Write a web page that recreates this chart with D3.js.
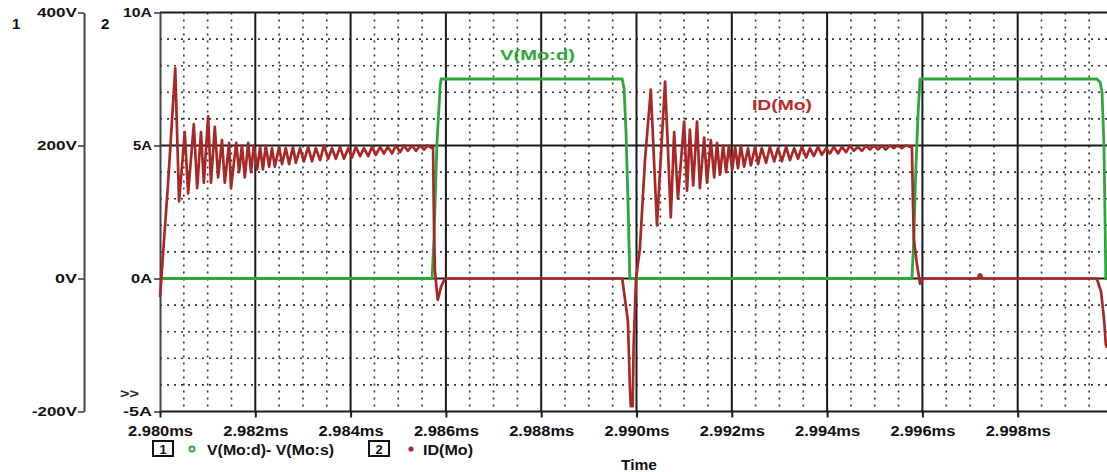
<!DOCTYPE html>
<html>
<head>
<meta charset="utf-8">
<script src="https://cdn.jsdelivr.net/npm/d3@7"></script>
<style>
  html, body { margin: 0; padding: 0; background: #fff; }
  svg { display: block; }
  text { font-family: "Liberation Sans", Arial, sans-serif; font-weight: bold; }
</style>
</head>
<body>
<script>
// ---------- DATA ----------
// time in microseconds after 2.980 ms
const xTickValues = [0, 2, 4, 6, 8, 10, 12, 14, 16, 18];
const xTickLabels = ["2.980ms", "2.982ms", "2.984ms", "2.986ms", "2.988ms", "2.990ms", "2.992ms", "2.994ms", "2.996ms", "2.998ms"];
const voltTickValues = [400, 200, 0, -200];
const voltTickLabels = ["400V", "200V", "0V", "-200V"];
const ampTickValues = [10, 5, 0, -5];
const ampTickLabels = ["10A", "5A", "0A", "-5A"];
const seriesNames = ["V(Mo:d)- V(Mo:s)", "ID(Mo)"];

// V(Mo:d) - V(Mo:s)  [V]
const vTime = [0, 5.71, 5.75, 5.81, 5.88, 5.90, 9.70, 9.74, 9.78, 9.82, 9.86, 15.78, 15.82, 15.86, 15.91, 15.95, 19.66, 19.73, 19.77, 19.81, 19.85, 19.88];
const vVolts = [0, 0, 60, 200, 290, 300, 300, 285, 220, 120, 0, 0, 60, 160, 250, 300, 300, 295, 280, 200, 0, 0];

// ID(Mo)  [A]
const idTime = [
  0.00, 0.17, 0.32, 0.40, 0.52, 0.59, 0.71, 0.78, 0.86, 0.92, 1.01, 1.07, 1.15, 1.22, 1.30, 1.36, 1.45, 1.49, 1.60, 1.66,
  1.72, 1.78, 1.85, 1.91, 1.97, 2.04, 2.10, 2.16, 2.22, 2.29, 2.35, 2.41, 2.50, 2.56, 2.64, 2.71, 2.79, 2.85, 2.94, 3.02,
  3.11, 3.19, 3.27, 3.36, 3.44, 3.53, 3.61, 3.69, 3.78, 3.86, 3.95, 4.03, 4.11, 4.20, 4.28, 4.37, 4.45, 4.53, 4.62, 4.70,
  4.78, 4.87, 4.95, 5.04, 5.12, 5.20, 5.29, 5.37, 5.46, 5.54, 5.62, 5.71, 5.73, 5.75, 5.77, 5.81, 5.83, 5.90, 5.98,
  9.70, 9.76, 9.82, 9.86, 9.88, 9.92, 9.94, 9.99, 10.07, 10.18, 10.30, 10.43, 10.60, 10.72, 10.79, 10.87, 11.00, 11.06,
  11.12, 11.19, 11.27, 11.33, 11.42, 11.48, 11.56, 11.63,
  11.69, 11.75, 11.82, 11.88, 11.94, 12.01, 12.07, 12.13, 12.19, 12.26, 12.34, 12.40, 12.49, 12.55, 12.63, 12.72, 12.80,
  12.89, 12.97, 13.05, 13.14, 13.22, 13.31, 13.39, 13.47, 13.56, 13.64, 13.72, 13.81, 13.89, 13.98, 14.06, 14.14, 14.23,
  14.31, 14.40, 14.48, 14.56, 14.65, 14.73, 14.82, 14.90, 14.98, 15.07, 15.15, 15.23, 15.32, 15.40, 15.48, 15.57, 15.65,
  15.74, 15.78, 15.80, 15.82, 15.88, 15.95, 16.01, 17.17, 17.19, 17.23, 17.25, 19.66, 19.75, 19.81, 19.85, 19.88
];
const idAmps = [
  -0.7, 3.6, 7.9, 2.9, 5.5, 3.2, 5.8, 3.4, 5.5, 3.6, 6.1, 3.6, 5.7, 3.8, 5.2, 3.6, 5.1, 3.4, 5.1, 4.0,
  5.0, 3.8, 5.1, 4.0, 5.0, 4.1, 4.95, 4.1, 5.0, 4.2, 4.9, 4.2, 4.95, 4.3, 4.9, 4.3, 4.95, 4.35, 4.9, 4.4,
  4.95, 4.4, 4.9, 4.45, 5.0, 4.5, 4.9, 4.5, 4.95, 4.5, 4.9, 4.55, 4.95, 4.6, 4.9, 4.6, 4.95, 4.65, 4.95, 4.7,
  4.95, 4.7, 5.0, 4.75, 5.0, 4.8, 5.0, 4.8, 5.0, 4.85, 5.0, 4.9, 4.95, 2.0, 0.3, -0.5, -0.8, -0.3, 0.0,
  0.0, -0.8, -1.6, -4.0, -4.8, -4.8, -2.5, 0.0, 1.1, 4.5, 7.1, 2.0, 7.4, 2.3, 5.5, 3.0, 5.9, 3.3,
  5.6, 3.5, 5.9, 3.4, 5.3, 3.6, 5.2, 3.8,
  5.1, 3.9, 5.0, 4.0, 5.0, 4.1, 4.95, 4.15, 5.0, 4.2, 4.9, 4.25, 4.95, 4.3, 4.9, 4.35, 4.95,
  4.4, 4.9, 4.4, 4.95, 4.45, 4.9, 4.5, 4.95, 4.55, 4.9, 4.6, 4.95, 4.65, 4.9, 4.7, 4.95, 4.7,
  4.95, 4.75, 5.0, 4.8, 4.95, 4.8, 5.0, 4.85, 5.0, 4.85, 5.0, 4.85, 5.0, 4.9, 5.0, 4.9, 5.0,
  4.95, 4.95, 3.0, 1.5, 0.6, -0.2, 0.0, 0.0, 0.15, 0.15, 0.0, 0.0, -0.5, -1.5, -2.5, -2.6
];

// ---------- CHART ----------
const W = 1107, H = 472;
const svg = d3.select("body").append("svg").attr("width", W).attr("height", H);
svg.append("rect").attr("width", W).attr("height", H).attr("fill", "#fff");

const x = d3.scaleLinear().domain([0, 20]).range([160, 1113]);
const yA = d3.scaleLinear().domain([-5, 10]).range([411.5, 12.5]);
const yV = d3.scaleLinear().domain([-200, 400]).range([411.5, 12.5]);

const plotRight = W;

// minor grid
const g = svg.append("g");
const minorX = d3.range(0.5, 20, 0.5).filter(v => v % 2 !== 0);
g.selectAll(".mx").data(minorX).join("line")
  .attr("x1", d => x(d)).attr("x2", d => x(d))
  .attr("y1", yA(10)).attr("y2", yA(-5))
  .attr("stroke", "#333").attr("stroke-width", 1.6).attr("stroke-dasharray", "2,5");
const minorY = d3.range(-4, 10, 1).filter(v => v % 5 !== 0);
g.selectAll(".my").data(minorY).join("line")
  .attr("x1", 160).attr("x2", plotRight)
  .attr("y1", d => yA(d)).attr("y2", d => yA(d))
  .attr("stroke", "#333").attr("stroke-width", 1.6).attr("stroke-dasharray", "2,5");

// major grid
g.selectAll(".Mx").data(xTickValues.filter(v => v > 0)).join("line")
  .attr("x1", d => x(d)).attr("x2", d => x(d))
  .attr("y1", yA(10)).attr("y2", yA(-5))
  .attr("stroke", "#1a1a1a").attr("stroke-width", 2);
g.selectAll(".My").data(ampTickValues).join("line")
  .attr("x1", 160).attr("x2", plotRight)
  .attr("y1", d => yA(d)).attr("y2", d => yA(d))
  .attr("stroke", "#1a1a1a").attr("stroke-width", 2);

// axes
function styleAxis(sel, widths) {
  sel.select(".domain").attr("stroke", "#444").attr("stroke-width", 2);
  sel.selectAll(".tick line").attr("stroke", "#333").attr("stroke-width", 1.5);
  sel.selectAll(".tick text").attr("fill", "#111").style("font-size", "13px").style("font-weight", "bold")
    .attr("textLength", (d, i) => widths[i]).attr("lengthAdjust", "spacingAndGlyphs");
}

const axV = svg.append("g").attr("transform", "translate(84,0)")
  .call(d3.axisLeft(yV).tickValues(voltTickValues).tickFormat((d, i) => voltTickLabels[i]).tickSize(6).tickSizeOuter(0).tickPadding(1));
styleAxis(axV, [40, 40, 22, 45]);
axV.attr("font-family", null);

const axA = svg.append("g").attr("transform", "translate(160,0)")
  .call(d3.axisLeft(yA).tickValues(ampTickValues).tickFormat((d, i) => ampTickLabels[i]).tickSize(6).tickSizeOuter(0).tickPadding(2));
styleAxis(axA, [29, 19, 21, 29]);
axA.attr("font-family", null);

const axX = svg.append("g").attr("transform", "translate(0," + yA(-5) + ")")
  .call(d3.axisBottom(x).tickValues(xTickValues).tickFormat((d, i) => xTickLabels[i]).tickSize(6).tickSizeOuter(0).tickPadding(9));
axX.select(".domain").remove();
axX.selectAll(".tick line").attr("stroke", "#1a1a1a").attr("stroke-width", 2);
axX.selectAll(".tick text").attr("fill", "#111").style("font-size", "14px").style("font-weight", "bold")
  .attr("textLength", 65).attr("lengthAdjust", "spacingAndGlyphs");
axX.attr("font-family", null);

// clip
svg.append("clipPath").attr("id", "clip").append("rect")
  .attr("x", 158).attr("y", 8).attr("width", W - 158).attr("height", 410);

const plot = svg.append("g").attr("clip-path", "url(#clip)");

const vData = vTime.map((t, i) => [t, vVolts[i]]);
const idData = idTime.map((t, i) => [t, idAmps[i]]);

const green = "#2ea63a";
const red = "#a82828";

plot.append("path").datum(vData)
  .attr("d", d3.line().x(d => x(d[0])).y(d => yV(d[1])))
  .attr("fill", "none").attr("stroke", green).attr("stroke-width", 2.8)
  .attr("stroke-linejoin", "round");

plot.append("path").datum(idData)
  .attr("d", d3.line().x(d => x(d[0])).y(d => yA(d[1])))
  .attr("fill", "none").attr("stroke", red).attr("stroke-width", 2.7)
  .attr("stroke-linejoin", "round");

// axis numbers
svg.append("text").attr("x", 12).attr("y", 29).style("font-size", "15px").attr("fill", "#111").text("1");
svg.append("text").attr("x", 101).attr("y", 29).style("font-size", "15px").attr("fill", "#111").text("2");
svg.append("text").attr("x", 120).attr("y", 398).style("font-size", "12px").attr("fill", "#222")
  .attr("textLength", 19).attr("lengthAdjust", "spacingAndGlyphs").text(">>");

// in-plot labels
svg.append("text").attr("x", 500).attr("y", 60).style("font-size", "15px").attr("fill", green)
  .attr("textLength", 75).attr("lengthAdjust", "spacingAndGlyphs").text("V(Mo:d)");
svg.append("text").attr("x", 752).attr("y", 110).style("font-size", "15px").attr("fill", "#b82a2a")
  .attr("textLength", 60).attr("lengthAdjust", "spacingAndGlyphs").text("ID(Mo)");

// legend
const leg = svg.append("g");
function legBox(x0, label) {
  leg.append("rect").attr("x", x0).attr("y", 441).attr("width", 20).attr("height", 15)
    .attr("fill", "#fff").attr("stroke", "#111").attr("stroke-width", 2);
  leg.append("text").attr("x", x0 + 10).attr("y", 454).attr("text-anchor", "middle")
    .style("font-size", "13px").attr("fill", "#111").text(label);
}
legBox(153, "1");
leg.append("circle").attr("cx", 192).attr("cy", 449).attr("r", 2.5).attr("fill", "#fff").attr("stroke", green).attr("stroke-width", 1.8);
leg.append("text").attr("x", 207).attr("y", 455).style("font-size", "14px").attr("fill", "#111")
  .attr("textLength", 127).attr("lengthAdjust", "spacingAndGlyphs").text(seriesNames[0]);
legBox(369, "2");
leg.append("circle").attr("cx", 411).attr("cy", 449).attr("r", 2.6).attr("fill", red);
leg.append("text").attr("x", 423).attr("y", 455).style("font-size", "14px").attr("fill", "#111")
  .attr("textLength", 50).attr("lengthAdjust", "spacingAndGlyphs").text(seriesNames[1]);

svg.append("text").attr("x", 621).attr("y", 470).style("font-size", "14px").attr("fill", "#111")
  .attr("textLength", 36).attr("lengthAdjust", "spacingAndGlyphs").text("Time");
</script>
</body>
</html>
